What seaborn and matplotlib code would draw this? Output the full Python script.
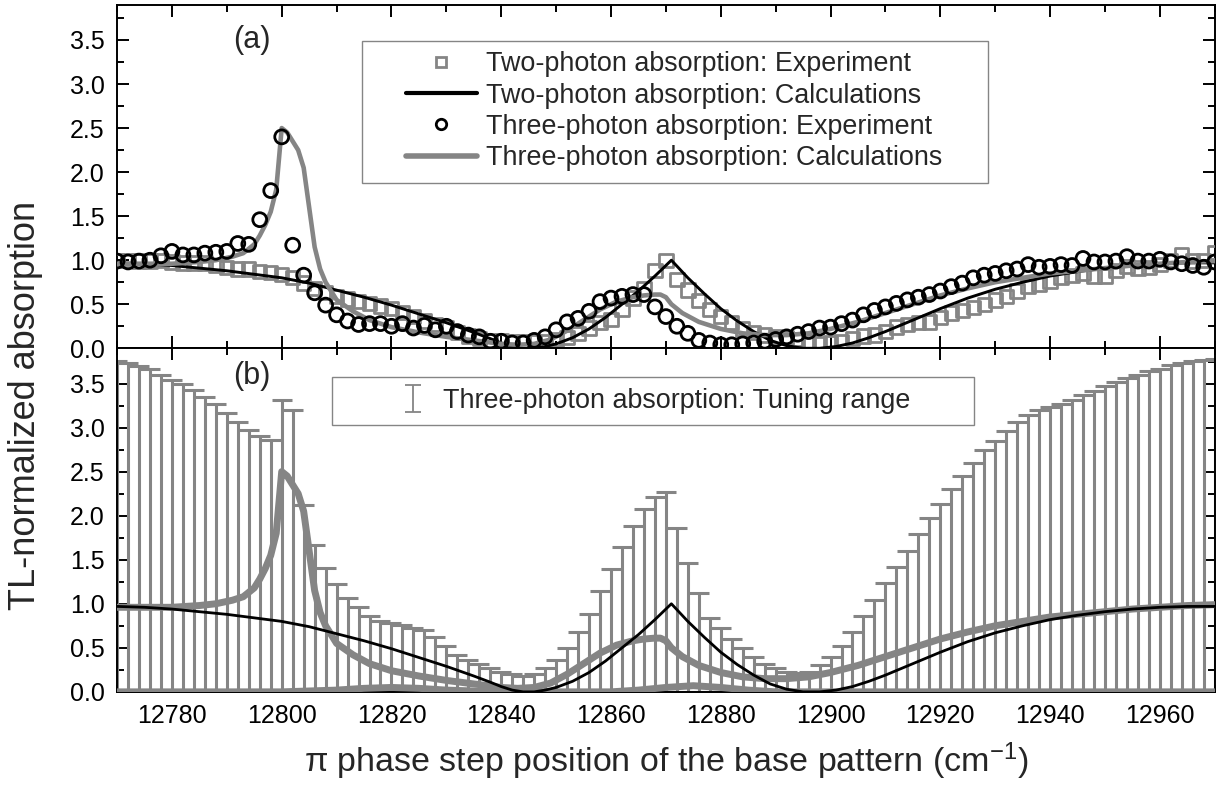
import numpy as np
import matplotlib
matplotlib.use("Agg")
import matplotlib.pyplot as plt
from matplotlib.lines import Line2D
from matplotlib.collections import LineCollection
from matplotlib.patches import Rectangle
from matplotlib.ticker import MultipleLocator, FormatStrFormatter
import seaborn as sns

# ---- data ----
# experiment grid, 2 cm-1 steps
x_exp = np.arange(12770, 12971, 2)

two_exp = [1.00, 1.00, 0.99, 0.99, 1.00, 0.98, 0.97, 0.97, 0.97, 0.94,
           0.92, 0.90, 0.90, 0.87, 0.86, 0.84, 0.80, 0.74, 0.68, 0.63,
           0.59, 0.56, 0.53, 0.51, 0.48, 0.45, 0.41, 0.36, 0.31, 0.27,
           0.23, 0.18, 0.14, 0.11, 0.09, 0.09, 0.07, 0.07, 0.07, 0.08,
           0.10, 0.12, 0.17, 0.23, 0.29, 0.33, 0.44, 0.57, 0.68, 0.88,
           1.00, 0.78, 0.66, 0.54, 0.44, 0.36, 0.29, 0.22, 0.18, 0.15,
           0.13, 0.12, 0.10, 0.07, 0.05, 0.06, 0.08, 0.11, 0.14, 0.15,
           0.19, 0.24, 0.27, 0.29, 0.30, 0.35, 0.40, 0.43, 0.46, 0.50,
           0.55, 0.59, 0.65, 0.70, 0.73, 0.76, 0.80, 0.83, 0.85, 0.82,
           0.82, 0.88, 0.93, 0.91, 0.92, 0.95, 1.00, 1.06, 0.99, 1.00,
           1.09]

three_exp = [0.99, 0.98, 0.99, 1.00, 1.05, 1.10, 1.06, 1.06, 1.08, 1.09,
             1.10, 1.19, 1.18, 1.46, 1.79, 2.40, 1.17, 0.83, 0.63, 0.49,
             0.38, 0.31, 0.27, 0.28, 0.28, 0.25, 0.28, 0.23, 0.26, 0.21,
             0.25, 0.19, 0.15, 0.13, 0.08, 0.08, 0.06, 0.06, 0.09, 0.13,
             0.21, 0.30, 0.34, 0.42, 0.53, 0.57, 0.59, 0.61, 0.61, 0.47,
             0.36, 0.25, 0.17, 0.09, 0.06, 0.04, 0.04, 0.05, 0.06, 0.08,
             0.10, 0.13, 0.16, 0.19, 0.23, 0.24, 0.28, 0.32, 0.38, 0.43,
             0.47, 0.51, 0.55, 0.58, 0.61, 0.65, 0.70, 0.74, 0.80, 0.83,
             0.85, 0.88, 0.90, 0.95, 0.92, 0.93, 0.95, 0.94, 1.02, 0.98,
             0.98, 0.99, 1.04, 0.99, 0.99, 1.01, 0.98, 0.96, 0.94, 0.92,
             0.98]

# tuning range upper limit (error bars), same grid
tune_hi = [3.76, 3.73, 3.70, 3.66, 3.60, 3.54, 3.50, 3.43, 3.35, 3.27,
           3.17, 3.06, 2.97, 2.90, 2.86, 3.31, 3.20, 2.12, 1.67, 1.41,
           1.23, 1.07, 0.96, 0.86, 0.80, 0.78, 0.76, 0.73, 0.70, 0.62,
           0.52, 0.42, 0.36, 0.32, 0.27, 0.23, 0.20, 0.18, 0.20, 0.27,
           0.36, 0.50, 0.68, 0.88, 1.14, 1.40, 1.65, 1.88, 2.08, 2.21,
           2.27, 1.86, 1.46, 1.12, 0.84, 0.72, 0.60, 0.50, 0.40, 0.32,
           0.27, 0.23, 0.21, 0.22, 0.30, 0.40, 0.52, 0.68, 0.86, 1.04,
           1.24, 1.42, 1.60, 1.79, 1.97, 2.13, 2.30, 2.45, 2.60, 2.74,
           2.85, 2.96, 3.06, 3.14, 3.20, 3.23, 3.27, 3.31, 3.37, 3.42,
           3.47, 3.52, 3.56, 3.60, 3.64, 3.67, 3.71, 3.73, 3.76, 3.77,
           3.78]

# two-photon calculation
x_two = [12770, 12775, 12780, 12785, 12790, 12795, 12800, 12805, 12810, 12815,
         12820, 12825, 12830, 12835, 12838, 12840, 12842, 12844, 12846, 12848,
         12850, 12853, 12856, 12859, 12862, 12865, 12868, 12871, 12874, 12877,
         12880, 12883, 12886, 12889, 12892, 12895, 12898, 12901, 12904, 12907,
         12910, 12915, 12920, 12925, 12930, 12935, 12940, 12945, 12950, 12955,
         12960, 12965, 12970]
y_two = [0.97, 0.96, 0.94, 0.91, 0.88, 0.84, 0.80, 0.74, 0.66, 0.58,
         0.49, 0.39, 0.29, 0.18, 0.11, 0.06, 0.02, 0.00, 0.00, 0.02,
         0.05, 0.12, 0.22, 0.35, 0.50, 0.65, 0.82, 1.00, 0.80, 0.62,
         0.45, 0.31, 0.19, 0.09, 0.03, 0.00, 0.00, 0.02, 0.06, 0.12,
         0.19, 0.32, 0.45, 0.57, 0.67, 0.75, 0.82, 0.87, 0.91, 0.94,
         0.96, 0.97, 0.97]

# three-photon calculation
x_three = [12770, 12775, 12780, 12785, 12788, 12791, 12793, 12795, 12796, 12797,
           12798, 12799, 12800, 12801, 12802, 12803, 12804, 12805, 12806, 12807,
           12808, 12810, 12813, 12816, 12820, 12825, 12830, 12835, 12840, 12843,
           12846, 12849, 12852, 12855, 12858, 12861, 12864, 12866, 12868, 12869,
           12870, 12871, 12873, 12876, 12880, 12884, 12888, 12892, 12896, 12900,
           12905, 12910, 12915, 12920, 12925, 12930, 12935, 12940, 12945, 12950,
           12955, 12960, 12965, 12970]
y_three = [0.96, 0.96, 0.96, 0.98, 1.00, 1.04, 1.08, 1.18, 1.28, 1.40,
           1.55, 1.80, 2.50, 2.45, 2.35, 2.25, 2.05, 1.60, 1.15, 0.90,
           0.75, 0.55, 0.42, 0.32, 0.24, 0.18, 0.13, 0.09, 0.05, 0.04,
           0.05, 0.10, 0.20, 0.32, 0.44, 0.53, 0.58, 0.60, 0.61, 0.61,
           0.58, 0.50, 0.40, 0.30, 0.22, 0.17, 0.15, 0.15, 0.17, 0.22,
           0.30, 0.40, 0.50, 0.60, 0.68, 0.75, 0.80, 0.85, 0.88, 0.91,
           0.94, 0.96, 0.98, 0.99]

# lower limit of tuning range
x_low = [12770, 12800, 12805, 12810, 12815, 12820, 12825, 12830, 12835, 12840,
         12860, 12865, 12870, 12875, 12880, 12885, 12890, 12970]
y_low = [0.0, 0.0, 0.01, 0.02, 0.04, 0.05, 0.04, 0.02, 0.01, 0.0,
         0.0, 0.02, 0.05, 0.07, 0.05, 0.02, 0.0, 0.0]

labels_a = ["Two-photon absorption: Experiment",
            "Two-photon absorption: Calculations",
            "Three-photon absorption: Experiment",
            "Three-photon absorption: Calculations"]
label_b = "Three-photon absorption: Tuning range"

GRAY = "#858585"
LEG_FS = 19.4

sns.set_theme(style="ticks")
plt.rcParams["font.family"] = ["Liberation Sans", "DejaVu Sans"]
plt.rcParams["mathtext.fontset"] = "custom"
plt.rcParams["mathtext.rm"] = "Liberation Sans"
plt.rcParams["mathtext.it"] = "Liberation Sans:italic"

fig, (ax1, ax2) = plt.subplots(2, 1, figsize=(12.27, 7.88), dpi=100, sharex=True)
fig.subplots_adjust(left=0.0954, right=0.990, top=0.994, bottom=0.122, hspace=0)

# ---- panel (a) ----
sns.scatterplot(x=x_exp, y=two_exp, ax=ax1, marker="s", s=92, color=GRAY,
                linewidth=2, legend=False, zorder=3)
ax1.collections[-1].set_facecolor("none")
ax1.collections[-1].set_edgecolor(GRAY)
sns.lineplot(x=x_two, y=y_two, ax=ax1, color="black", lw=2.1,
             estimator=None, sort=False, legend=False, zorder=4)
sns.scatterplot(x=x_exp, y=three_exp, ax=ax1, marker="o", s=100, color="black",
                linewidth=2, legend=False, zorder=5)
ax1.collections[-1].set_facecolor("none")
ax1.collections[-1].set_edgecolor("black")
sns.lineplot(x=x_three, y=y_three, ax=ax1, color=GRAY, lw=3.3,
             estimator=None, sort=False, legend=False, zorder=4)

handles_a = [
    Line2D([], [], ls="none", marker="s", mfc="none", mec=GRAY, mew=2, ms=7.5),
    Line2D([], [], color="black", lw=3),
    Line2D([], [], ls="none", marker="o", mfc="none", mec="black", mew=2, ms=7.5),
    Line2D([], [], color=GRAY, lw=4),
]
ax1.add_patch(Rectangle((0.223, 0.481), 0.570, 0.414, transform=ax1.transAxes,
                        facecolor="white", edgecolor=GRAY, lw=1.0, zorder=6))
leg = ax1.legend(handles_a, labels_a, loc="center left", bbox_to_anchor=(0.263, 0.690),
                 fontsize=LEG_FS, frameon=False, handlelength=2.65,
                 labelspacing=0.2, borderpad=0, handletextpad=0.33,
                 borderaxespad=0)
leg.set_zorder(7)
ax1.text(12794.5, 3.5, "(a)", fontsize=22, ha="center", va="center")

# ---- panel (b) ----
ax2.errorbar(x_exp, np.zeros(len(x_exp)), yerr=[np.zeros(len(x_exp)), tune_hi],
             fmt="none", ecolor=GRAY, elinewidth=2.2, capsize=7, capthick=2.2,
             label=label_b, zorder=2)
sns.lineplot(x=x_low, y=y_low, ax=ax2, color=GRAY, lw=5,
             estimator=None, sort=False, legend=False, zorder=3)
sns.lineplot(x=x_three, y=y_three, ax=ax2, color=GRAY, lw=5,
             estimator=None, sort=False, legend=False, zorder=3)
sns.lineplot(x=x_two, y=y_two, ax=ax2, color="black", lw=2,
             estimator=None, sort=False, legend=False, zorder=4)
ax2.add_patch(Rectangle((0.196, 0.776), 0.585, 0.140, transform=ax2.transAxes,
                        facecolor="white", edgecolor=GRAY, lw=1.0, zorder=6))
hb, lb = ax2.get_legend_handles_labels()
leg2 = ax2.legend(hb, lb, loc="center left", bbox_to_anchor=(0.257, 0.846),
                  fontsize=LEG_FS, frameon=False, handlelength=1.0,
                  borderpad=0, handletextpad=0.63, borderaxespad=0)
leg2.set_zorder(7)
# thin "I" symbol like the original legend
for art in leg2.findobj(LineCollection):
    art.set_linewidth(1.3)
for art in leg2.findobj(Line2D):
    art.set_markeredgewidth(1.3)
    art.set_markersize(11)
ax2.text(12794.5, 3.58, "(b)", fontsize=22, ha="center", va="center")

for ax in (ax1, ax2):
    ax.set_xlim(12770, 12970)
    ax.set_ylim(0, 3.9)
    ax.xaxis.set_major_locator(MultipleLocator(20))
    ax.xaxis.set_minor_locator(MultipleLocator(10))
    ax.yaxis.set_major_locator(MultipleLocator(0.5))
    ax.yaxis.set_minor_locator(MultipleLocator(0.25))
    ax.yaxis.set_major_formatter(FormatStrFormatter("%.1f"))
    ax.tick_params(which="both", direction="in", top=True, right=True,
                   width=1.4, labelsize=18, color="black", labelcolor="black")
    ax.tick_params(which="major", length=8.5)
    ax.tick_params(which="minor", length=5)
    ax.tick_params(axis="y", pad=9)
    ax.tick_params(axis="x", pad=9)
    for sp in ax.spines.values():
        sp.set_linewidth(1.4)
        sp.set_color("black")
    ax.set_ylabel("")
    ax.set_xlabel("")

ax1.tick_params(labelbottom=False)
ax2.set_xlabel(r"$\mathrm{\pi}$ phase step position of the base pattern (cm$^{-1}$)",
               fontsize=24.5, labelpad=9)
fig.text(0.021, 0.485, "TL-normalized absorption", rotation=90, fontsize=26,
         ha="center", va="center")

fig.savefig("out.png", dpi=100)
